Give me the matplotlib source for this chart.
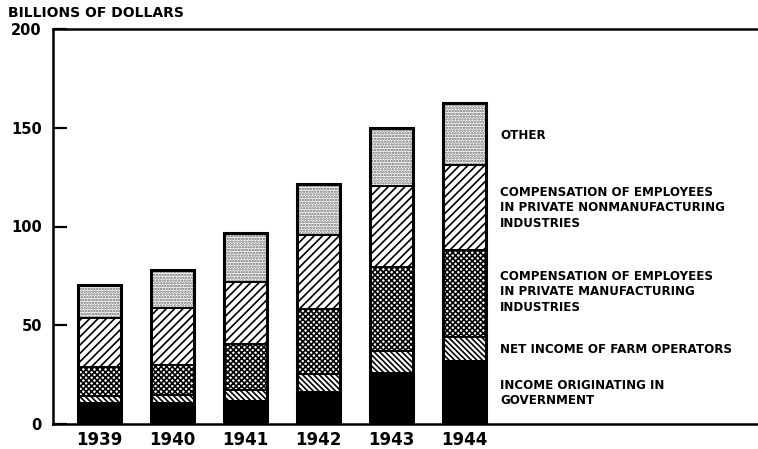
import matplotlib
matplotlib.use("Agg")
import matplotlib.pyplot as plt
import numpy as np

years = ["1939", "1940", "1941", "1942", "1943", "1944"]
government = [10.5, 10.5, 11.8, 16.4, 25.7, 32.1]
farm = [3.7, 4.2, 5.4, 8.9, 11.3, 12.1]
manufacturing = [14.5, 15.2, 23.3, 32.8, 42.6, 43.9]
nonmanufacturing = [25.1, 29.0, 31.6, 37.6, 41.1, 43.0]
other = [16.6, 19.1, 24.5, 25.8, 29.0, 31.3]

labels = [
    "INCOME ORIGINATING IN\nGOVERNMENT",
    "NET INCOME OF FARM OPERATORS",
    "COMPENSATION OF EMPLOYEES\nIN PRIVATE MANUFACTURING\nINDUSTRIES",
    "COMPENSATION OF EMPLOYEES\nIN PRIVATE NONMANUFACTURING\nINDUSTRIES",
    "OTHER",
]
label_y = [15.8, 37.8, 67.0, 109.4, 146.3]
yticks = [0, 50, 100, 150, 200]

series = [government, farm, manufacturing, nonmanufacturing, other]
styles = [
    dict(facecolor="black", edge="black", hatch=None),
    dict(facecolor="white", edge="black", hatch="\\" * 6),
    dict(facecolor="white", edge="black", hatch="x" * 6),
    dict(facecolor="white", edge="black", hatch="/" * 4),
    dict(facecolor="white", edge="#666666", hatch="." * 6),
]

plt.rcParams["hatch.linewidth"] = 1.2

fig = plt.figure(figsize=(7.58, 4.49), dpi=100)
ax = fig.add_axes([53 / 758, 25 / 449, 1 - 53 / 758, (424 - 29) / 449])

x = np.arange(len(years))
width = 0.59
bottom = np.zeros(len(years))
for vals, st in zip(series, styles):
    ax.bar(x, vals, width, bottom=bottom, facecolor=st["facecolor"],
           edgecolor=st["edge"], hatch=st["hatch"], linewidth=0, zorder=2)
    bottom = bottom + np.array(vals)

# segment dividers and outline
bottom = np.zeros(len(years))
for vals in series:
    ax.bar(x, vals, width, bottom=bottom, fill=False, edgecolor="black",
           linewidth=1.2, zorder=3)
    bottom = bottom + np.array(vals)
ax.bar(x, bottom, width, fill=False, edgecolor="black", linewidth=2.2, zorder=4)

ax.set_ylim(0, 200)
ax.set_xlim(-0.637, (758 - 99.5) / 73)
ax.set_yticks(yticks)
ax.set_yticklabels([str(t) for t in yticks], fontsize=10.5, fontweight="bold")
ax.tick_params(axis="y", direction="in", length=10, width=1.6, pad=8)
ax.set_xticks(x)
ax.set_xticklabels(years, fontsize=12, fontweight="bold")
ax.tick_params(axis="x", length=0, pad=5)

for side in ["left", "top", "bottom"]:
    ax.spines[side].set_linewidth(1.8)
ax.spines["right"].set_visible(False)

for lab, yy in zip(labels, label_y):
    ax.text(5.486, yy, lab, fontsize=8.6, fontweight="bold", va="center",
            ha="left", linespacing=1.25)

fig.text(8 / 758, 1 - 13 / 449, "BILLIONS OF DOLLARS", fontsize=10,
         fontweight="bold", va="center", ha="left")

fig.savefig("out.png", dpi=100, facecolor="white")
